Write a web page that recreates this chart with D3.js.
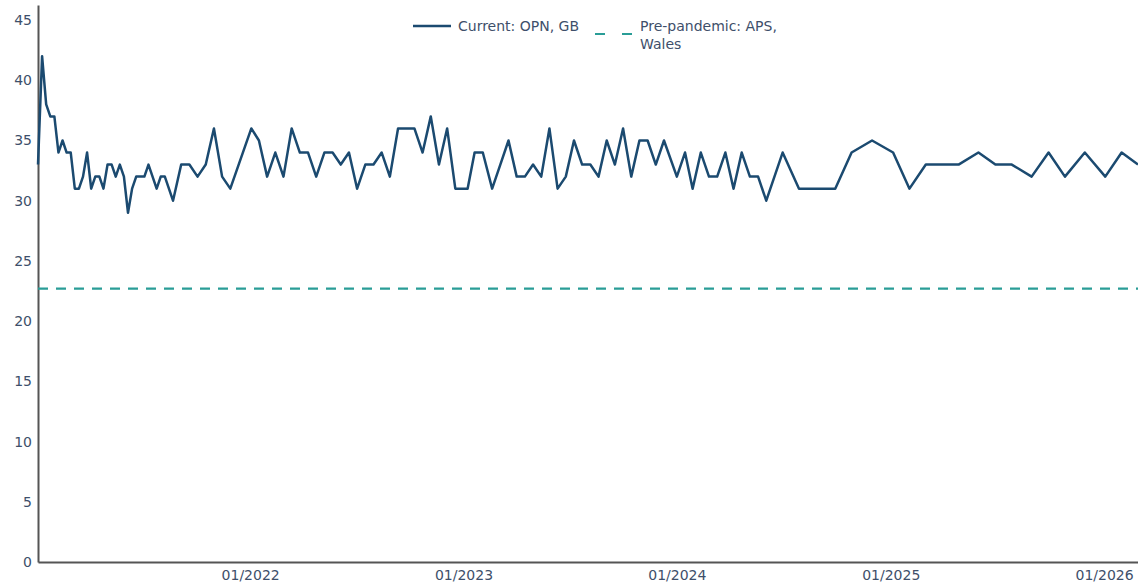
<!DOCTYPE html>
<html>
<head>
<meta charset="utf-8">
<script src="https://cdn.jsdelivr.net/npm/d3@7"></script>
<style>
  html, body { margin: 0; padding: 0; background: #fff; }
  svg { display: block; font-family: "DejaVu Sans", Verdana, sans-serif; }
</style>
</head>
<body>
<svg id="chart" width="1138" height="586"></svg>
<script>
const dates = [
  "2021-01-03","2021-01-10","2021-01-17","2021-01-24","2021-01-31","2021-02-07","2021-02-14","2021-02-21","2021-02-28",
  "2021-03-07","2021-03-14","2021-03-21","2021-03-28","2021-04-04","2021-04-11","2021-04-18","2021-04-25","2021-05-02",
  "2021-05-09","2021-05-16","2021-05-23","2021-05-30","2021-06-06","2021-06-13","2021-06-20","2021-06-27","2021-07-04",
  "2021-07-11","2021-07-25","2021-08-01","2021-08-08","2021-08-22","2021-09-05","2021-09-19","2021-10-03","2021-10-17",
  "2021-10-31","2021-11-14","2021-11-28",
  "2022-01-03","2022-01-16","2022-01-30","2022-02-13","2022-02-27","2022-03-13","2022-03-27","2022-04-10","2022-04-24",
  "2022-05-08","2022-05-22","2022-06-05","2022-06-19","2022-07-03","2022-07-17","2022-07-31","2022-08-14","2022-08-28",
  "2022-09-11","2022-09-25","2022-10-09","2022-10-23","2022-11-06","2022-11-20","2022-12-04","2022-12-18","2022-12-28",
  "2023-01-08","2023-01-20","2023-02-03","2023-02-19","2023-03-05","2023-03-19","2023-04-02","2023-04-16","2023-04-30",
  "2023-05-14","2023-05-28","2023-06-11","2023-06-25","2023-07-09","2023-07-23","2023-08-06","2023-08-20","2023-09-03",
  "2023-09-17","2023-10-01","2023-10-15","2023-10-29","2023-11-12","2023-11-26","2023-12-10",
  "2024-01-01","2024-01-15","2024-01-28","2024-02-11","2024-02-25","2024-03-10","2024-03-24","2024-04-07","2024-04-21",
  "2024-05-05","2024-05-19","2024-06-02","2024-06-30","2024-07-28","2024-08-28","2024-09-28","2024-10-26","2024-11-30",
  "2025-01-05","2025-02-02","2025-03-02","2025-03-30","2025-04-27","2025-05-31","2025-06-29","2025-07-27","2025-08-30",
  "2025-09-28","2025-10-26","2025-11-29","2026-01-03","2026-01-31","2026-02-28"
];
const currentOPN = [
  33,42,38,37,37,34,35,34,34,
  31,31,32,34,31,32,32,31,33,
  33,32,33,32,29,31,32,32,32,
  33,31,32,32,30,33,33,32,33,
  36,32,31,
  36,35,32,34,32,36,34,34,32,
  34,34,33,34,31,33,33,34,32,
  36,36,36,34,37,33,36,31,31,
  31,34,34,31,33,35,32,32,33,
  32,36,31,32,35,33,33,32,35,
  33,36,32,35,35,33,35,
  32,34,31,34,32,32,34,31,34,
  32,32,30,34,31,31,31,34,35,
  34,31,33,33,33,34,33,33,32,
  34,32,34,32,34,33
];
const prePandemicAPS = 22.7;
const yTicks = [0,5,10,15,20,25,30,35,40,45];
const xTickDates = ["2022-01-01","2023-01-01","2024-01-01","2025-01-01","2026-01-01"];
const seriesNames = ["Current: OPN, GB", "Pre-pandemic: APS, Wales"];

const parse = d3.timeParse("%Y-%m-%d");
const data = dates.map((d, i) => ({ date: parse(d), value: currentOPN[i] }));

const svg = d3.select("#chart");
const margin = { left: 38, right: 0, top: 5, bottom: 24 };
const W = 1138, H = 586;

const x = d3.scaleTime()
  .domain(d3.extent(data, d => d.date))
  .range([margin.left, W - margin.right]);
const y = d3.scaleLinear()
  .domain([0, 46.25])
  .range([H - margin.bottom, margin.top]);

const textColor = "#3e4f6a";
const lineColor = "#1b4a70";
const dashColor = "#2a9d97";

// x axis
const xAxis = d3.axisBottom(x)
  .tickValues(xTickDates.map(parse))
  .tickFormat(d3.timeFormat("%m/%Y"))
  .tickSize(0)
  .tickPadding(8);
const gx = svg.append("g")
  .attr("transform", `translate(0,${y(0)})`)
  .call(xAxis);
gx.select(".domain").attr("stroke", "#555").attr("stroke-width", 2);
gx.selectAll("text").attr("fill", textColor).attr("font-size", 14)
  .attr("font-family", "'DejaVu Sans', Verdana, sans-serif");

// y axis
const yAxis = d3.axisLeft(y)
  .tickValues(yTicks)
  .tickSize(0)
  .tickPadding(6);
const gy = svg.append("g")
  .attr("transform", `translate(${margin.left},0)`)
  .call(yAxis);
gy.select(".domain").attr("stroke", "#555").attr("stroke-width", 2);
gy.selectAll("text").attr("fill", textColor).attr("font-size", 14)
  .attr("font-family", "'DejaVu Sans', Verdana, sans-serif");

// dashed reference line
svg.append("line")
  .attr("x1", x.range()[0]).attr("x2", x.range()[1])
  .attr("y1", y(prePandemicAPS)).attr("y2", y(prePandemicAPS))
  .attr("stroke", dashColor).attr("stroke-width", 2.2)
  .attr("stroke-dasharray", "10,8");

// main line
svg.append("path")
  .datum(data)
  .attr("fill", "none")
  .attr("stroke", lineColor)
  .attr("stroke-width", 2.5)
  .attr("stroke-linejoin", "round")
  .attr("d", d3.line().x(d => x(d.date)).y(d => y(d.value)));

// legend
const lg = svg.append("g").attr("font-size", 14).attr("fill", textColor);
lg.append("line").attr("x1", 413).attr("x2", 451).attr("y1", 26).attr("y2", 26)
  .attr("stroke", lineColor).attr("stroke-width", 2.5);
lg.append("text").attr("x", 458).attr("y", 31).attr("fill", textColor).text(seriesNames[0]);
lg.append("line").attr("x1", 595).attr("x2", 632).attr("y1", 34).attr("y2", 34)
  .attr("stroke", dashColor).attr("stroke-width", 2.2).attr("stroke-dasharray", "10,17");
const t2 = lg.append("text").attr("x", 640).attr("y", 31).attr("fill", textColor);
t2.append("tspan").attr("x", 640).attr("dy", 0).text("Pre-pandemic: APS,");
t2.append("tspan").attr("x", 640).attr("dy", 18).text("Wales");
</script>
</body>
</html>
